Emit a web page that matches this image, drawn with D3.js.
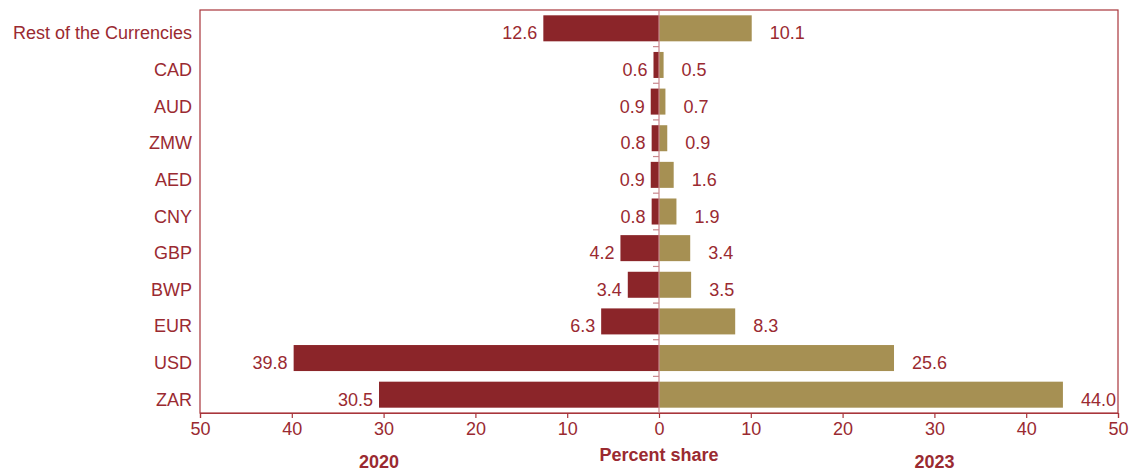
<!DOCTYPE html>
<html>
<head>
<meta charset="utf-8">
<script src="https://cdn.jsdelivr.net/npm/d3@7"></script>
<style>
  html, body { margin: 0; padding: 0; background: #ffffff; }
  svg { display: block; font-family: "Liberation Sans", Arial, sans-serif; }
</style>
</head>
<body>
<svg id="chart" width="1135" height="472"></svg>
<script>
// Currency shares of payments, top row first
const categories = ["Rest of the Currencies", "CAD", "AUD", "ZMW", "AED", "CNY", "GBP", "BWP", "EUR", "USD", "ZAR"];
const share2020 = [12.6, 0.6, 0.9, 0.8, 0.9, 0.8, 4.2, 3.4, 6.3, 39.8, 30.5];
const share2023 = [10.1, 0.5, 0.7, 0.9, 1.6, 1.9, 3.4, 3.5, 8.3, 25.6, 44.0];
const tickValues = [-50, -40, -30, -20, -10, 0, 10, 20, 30, 40, 50];
const yearLeft = "2020";
const yearRight = "2023";
const axisTitle = "Percent share";

const textColor = "#9a2a31";
const frameColor = "#a8353b";
const color2020 = "#8b2529";
const color2023 = "#a69053";
const centerColor = "#c9878d";

const margin = { left: 200, right: 17, top: 10, bottom: 59 };
const W = 1135, H = 472;
const svg = d3.select("#chart");

const x = d3.scaleLinear().domain([-50, 50]).range([margin.left, W - margin.right]);
const pad = 0.29;
const y = d3.scaleBand().domain(categories)
  .range([margin.top, H - margin.bottom])
  .paddingInner(pad).paddingOuter(pad / 2);

const rows = categories.map((c, i) => ({ cat: c, a: share2020[i], b: share2023[i] }));

// Plot frame
svg.append("rect")
  .attr("x", x(-50)).attr("y", margin.top)
  .attr("width", x(50) - x(-50)).attr("height", H - margin.bottom - margin.top)
  .attr("fill", "none").attr("stroke", frameColor).attr("stroke-width", 1.2);

// 2020 bars extend left, 2023 bars extend right
svg.append("g").selectAll("rect").data(rows).join("rect")
  .attr("x", d => x(-d.a)).attr("y", d => y(d.cat))
  .attr("width", d => x(0) - x(-d.a)).attr("height", y.bandwidth())
  .attr("fill", color2020);
svg.append("g").selectAll("rect").data(rows).join("rect")
  .attr("x", x(0)).attr("y", d => y(d.cat))
  .attr("width", d => x(d.b) - x(0)).attr("height", y.bandwidth())
  .attr("fill", color2023);

// Center line with ticks at row boundaries
const step = y.step();
const bounds = categories.slice(1).map(c => y(c) - step * pad / 2);
const cg = svg.append("g");
cg.append("line")
  .attr("x1", x(0)).attr("x2", x(0))
  .attr("y1", margin.top).attr("y2", H - margin.bottom)
  .attr("stroke", centerColor).attr("stroke-width", 1.2);
cg.selectAll("line.tk").data(bounds).join("line").attr("class", "tk")
  .attr("x1", x(0) - 6).attr("x2", x(0))
  .attr("y1", d => d).attr("y2", d => d)
  .attr("stroke", centerColor).attr("stroke-width", 1.2);

// Value labels
const labelDy = 11;
svg.append("g").selectAll("text").data(rows).join("text")
  .attr("x", d => x(-d.a) - 6)
  .attr("y", d => y(d.cat) + y.bandwidth() / 2 + labelDy)
  .attr("text-anchor", "end").attr("font-size", 18).attr("fill", textColor)
  .text(d => d.a.toFixed(1));
svg.append("g").selectAll("text").data(rows).join("text")
  .attr("x", d => x(d.b) + 18)
  .attr("y", d => y(d.cat) + y.bandwidth() / 2 + labelDy)
  .attr("text-anchor", "start").attr("font-size", 18).attr("fill", textColor)
  .text(d => d.b.toFixed(1));

// Category labels
svg.append("g").selectAll("text").data(categories).join("text")
  .attr("x", x(-50) - 8)
  .attr("y", d => y(d) + y.bandwidth() / 2 + labelDy)
  .attr("text-anchor", "end").attr("font-size", 18).attr("fill", textColor)
  .text(d => d);

// Bottom axis
const xAxis = d3.axisBottom(x).tickValues(tickValues)
  .tickFormat(d => Math.abs(d)).tickSize(5).tickPadding(4);
const ax = svg.append("g").attr("transform", `translate(0,${H - margin.bottom})`).call(xAxis);
ax.select(".domain").attr("stroke", frameColor).attr("stroke-width", 1.2);
ax.selectAll(".tick line").attr("stroke", frameColor).attr("stroke-width", 1.2);
ax.selectAll(".tick text").attr("fill", textColor).attr("font-size", 18)
  .attr("font-family", "Liberation Sans, Arial, sans-serif");

// Axis titles
const titles = [
  { t: yearLeft, x: x(-30.5), y: 468 },
  { t: axisTitle, x: x(0), y: 461 },
  { t: yearRight, x: x(30), y: 468 }
];
svg.append("g").selectAll("text").data(titles).join("text")
  .attr("x", d => d.x).attr("y", d => d.y)
  .attr("text-anchor", "middle").attr("font-size", 18).attr("font-weight", "bold")
  .attr("fill", textColor).text(d => d.t);
</script>
</body>
</html>
